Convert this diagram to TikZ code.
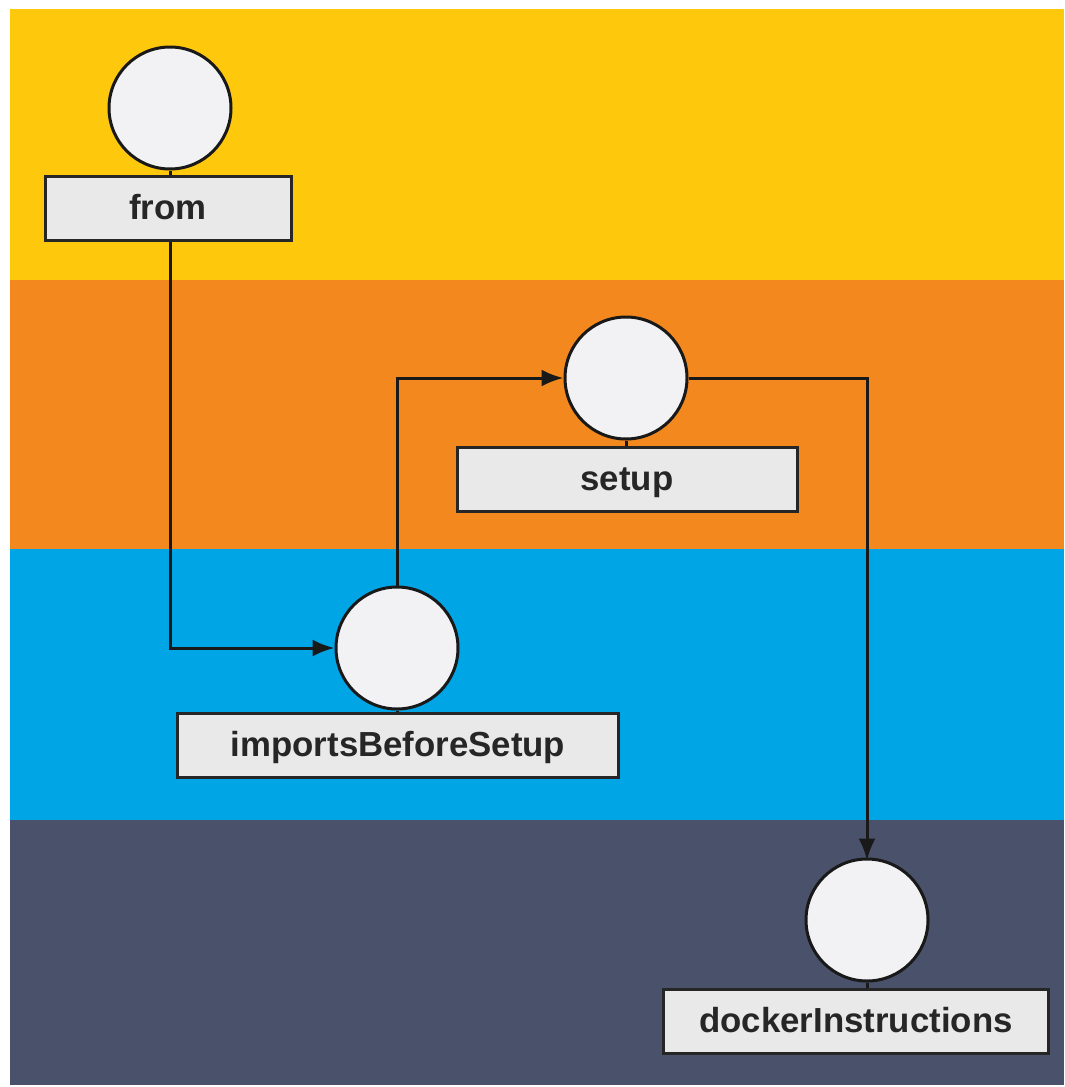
\documentclass[tikz,border=0pt]{standalone}
\usepackage{fontspec}
\setmainfont{Liberation Sans}
\usetikzlibrary{arrows.meta}
\definecolor{laneA}{HTML}{FEC80C}
\definecolor{laneB}{HTML}{F3891E}
\definecolor{laneC}{HTML}{00A5E6}
\definecolor{laneD}{HTML}{4A516A}
\definecolor{dotfill}{HTML}{F2F2F4}
\definecolor{tagfill}{HTML}{E9E9E9}
\begin{document}
\begin{tikzpicture}[x=1pt,y=-1pt,
  dot/.style={circle,draw=black!90,line width=3pt,fill=dotfill,minimum size=122pt,inner sep=0pt},
  tag/.style={rectangle,draw=black!85,line width=3pt,fill=tagfill,minimum height=64pt,inner sep=0pt,
    text height=23pt,text depth=0pt,
    font=\fontsize{34.8}{40}\selectfont\bfseries,text=black!85},
  flow/.style={line width=3pt,draw=black!90,-{Latex[length=22pt,width=17pt]}},
  stub/.style={line width=3pt,draw=black!90}]
\useasboundingbox (0,0) rectangle (1065,1087);
\fill[white] (0,0) rectangle (1065,1087);
% swim lanes
\fill[laneA] (10,9) rectangle (1064,280);
\fill[laneB] (10,280) rectangle (1064,549);
\fill[laneC] (10,549) rectangle (1064,820);
\fill[laneD] (10,820) rectangle (1064,1085);
% steps
\node[dot] (fromC) at (170,108) {};
\node[tag,minimum width=246pt] (fromT) at (168,208) {from};
\node[dot] (setupC) at (626,378) {};
\node[tag,minimum width=340pt] (setupT) at (627,479) {setup};
\node[dot] (impC) at (397,648) {};
\node[tag,minimum width=441pt] (impT) at (398,745) {importsBeforeSetup};
\node[dot] (dockC) at (867,920) {};
\node[tag,minimum width=385pt] (dockT) at (856,1021) {dockerInstructions};
% links between each circle and its label
\draw[stub] (fromC.south) -- (fromC.south |- fromT.north);
\draw[stub] (setupC.south) -- (setupC.south |- setupT.north);
\draw[stub] (impC.south) -- (impC.south |- impT.north);
\draw[stub] (dockC.south) -- (dockC.south |- dockT.north);
% flow
\draw[flow] (fromC.south |- fromT.south) |- (impC.west);
\draw[flow] (impC.north) |- (setupC.west);
\draw[flow] (setupC.east) -| ([yshift=-3pt]dockC.north);
\end{tikzpicture}
\end{document}
